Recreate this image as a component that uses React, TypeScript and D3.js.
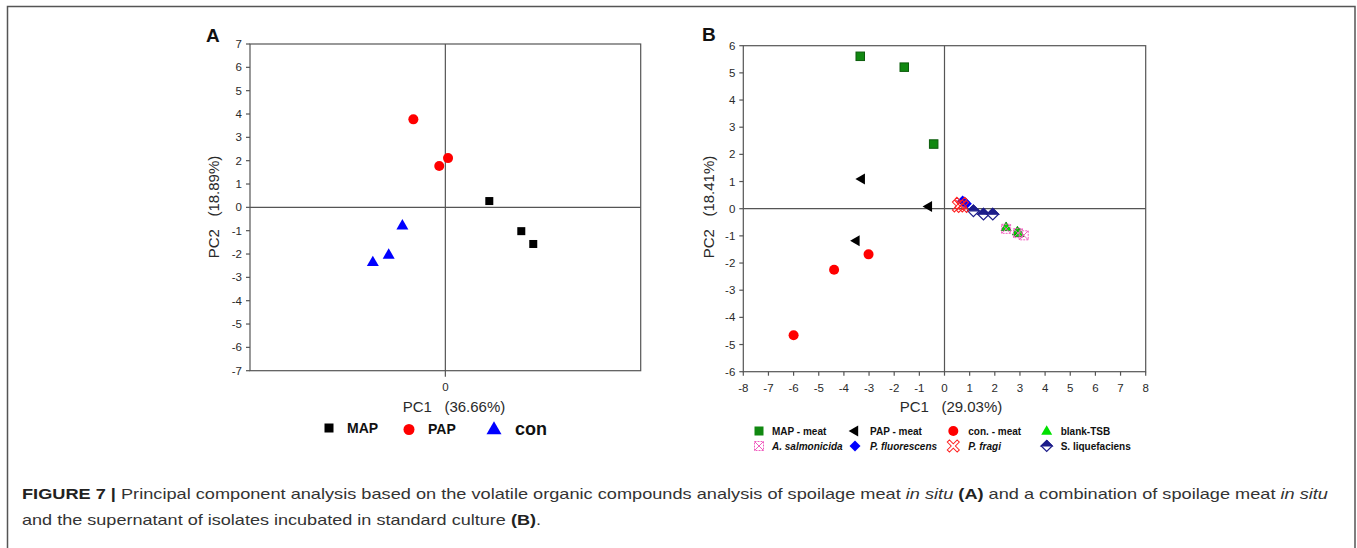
import React from "react";
import * as d3 from "d3";

const W = 1357;
const H = 548;

// ---------- Panel A data ----------
const mapA = [
  { x: 1.8, y: 0.27 },
  { x: 3.11, y: -1.02 },
  { x: 3.6, y: -1.57 },
];
const papA = [
  { x: -1.31, y: 3.77 },
  { x: -0.25, y: 1.77 },
  { x: 0.11, y: 2.11 },
];
const conA = [
  { x: -1.76, y: -0.8 },
  { x: -2.32, y: -2.05 },
  { x: -2.97, y: -2.37 },
];
const yTicksA = [-7, -6, -5, -4, -3, -2, -1, 0, 1, 2, 3, 4, 5, 6, 7];
const xTicksA = [0];

// ---------- Panel B data ----------
const mapMeat = [
  { x: -3.35, y: 5.61 },
  { x: -1.6, y: 5.21 },
  { x: -0.43, y: 2.38 },
];
const papMeat = [
  { x: -3.29, y: 1.09 },
  { x: -0.62, y: 0.08 },
  { x: -3.5, y: -1.18 },
];
const conMeat = [
  { x: -6.0, y: -4.66 },
  { x: -4.39, y: -2.25 },
  { x: -3.02, y: -1.68 },
];
const blankTSB = [
  { x: 2.45, y: -0.7 },
  { x: 2.9, y: -0.86 },
  { x: 2.97, y: -0.92 },
];
const aSalmonicida = [
  { x: 2.45, y: -0.74 },
  { x: 2.92, y: -0.9 },
  { x: 3.15, y: -0.98 },
];
const pFluorescens = [
  { x: 0.72, y: 0.28 },
  { x: 0.8, y: 0.24 },
  { x: 0.87, y: 0.18 },
];
const pFragi = [
  { x: 0.55, y: 0.1 },
  { x: 0.65, y: 0.2 },
  { x: 0.72, y: 0.08 },
];
const sLiquefaciens = [
  { x: 1.15, y: -0.08 },
  { x: 1.55, y: -0.2 },
  { x: 1.92, y: -0.2 },
];
const ticksB_x = [-8, -7, -6, -5, -4, -3, -2, -1, 0, 1, 2, 3, 4, 5, 6, 7, 8];
const ticksB_y = [-6, -5, -4, -3, -2, -1, 0, 1, 2, 3, 4, 5, 6];

const FONT = "'Liberation Sans', Arial, Helvetica, sans-serif";
const AX = "#555";
const TXT = "#2a2a2a";

// ---------- marker helpers ----------
const sym = (type: d3.SymbolType, size: number) => d3.symbol().type(type).size(size)() as string;

function Square({ cx, cy, s, fill, stroke }: any) {
  return <rect x={cx - s / 2} y={cy - s / 2} width={s} height={s} fill={fill} stroke={stroke || "none"} strokeWidth={1} />;
}
function Circle({ cx, cy, r, fill }: any) {
  return <circle cx={cx} cy={cy} r={r} fill={fill} />;
}
function Tri({ cx, cy, w, fill, stroke, rot = 0 }: any) {
  const size = (Math.sqrt(3) / 4) * w * w;
  return (
    <path d={sym(d3.symbolTriangle, size)} transform={`translate(${cx},${cy}) rotate(${rot})`} fill={fill} stroke={stroke || "none"} strokeWidth={0.8} />
  );
}
function Diamond({ cx, cy, h, fill, stroke }: any) {
  const d = `M0,${-h}L${h},0L0,${h}L${-h},0Z`;
  return <path d={d} transform={`translate(${cx},${cy})`} fill={fill} stroke={stroke || "none"} strokeWidth={1.2} />;
}
function HalfDiamond({ cx, cy, h }: any) {
  const full = `M0,${-h}L${h},0L0,${h}L${-h},0Z`;
  const top = `M0,${-h}L${h},0L${-h},0Z`;
  return (
    <g transform={`translate(${cx},${cy})`}>
      <path d={full} fill="#fff" stroke="#1c1c8a" strokeWidth={1.2} />
      <path d={top} fill="#1c1c8a" stroke="#1c1c8a" strokeWidth={1.2} />
    </g>
  );
}
function XBox({ cx, cy, s }: any) {
  const h = s / 2;
  return (
    <g transform={`translate(${cx},${cy})`} stroke="#f060c0" strokeWidth={1} fill="none">
      <rect x={-h} y={-h} width={s} height={s} strokeDasharray="2,1" />
      <path d={`M${-h},${-h}L${h},${h}M${h},${-h}L${-h},${h}`} />
    </g>
  );
}
function HollowX({ cx, cy, h, a }: any) {
  const pts = [
    [-a, -h], [a, -h], [a, -a], [h, -a], [h, a], [a, a], [a, h], [-a, h], [-a, a], [-h, a], [-h, -a], [-a, -a],
  ];
  const d = "M" + pts.map((p) => p.join(",")).join("L") + "Z";
  return <path d={d} transform={`translate(${cx},${cy}) rotate(45)`} fill="none" stroke="#ff2020" strokeWidth={1} />;
}

// ---------- Panel A ----------
function PanelA() {
  const x = d3.scaleLinear().domain([-8, 8]).range([250, 640.7]);
  const y = d3.scaleLinear().domain([-7, 7]).range([370.7, 44]);
  const [x0, x1] = x.range();
  const [y0, y1] = y.range();
  return (
    <g fontFamily={FONT}>
      <rect x={x0} y={y1} width={x1 - x0} height={y0 - y1} fill="none" stroke={AX} strokeWidth={1.2} />
      <line x1={x(0)} x2={x(0)} y1={y1} y2={y0 + 6} stroke={AX} strokeWidth={1.2} />
      <line x1={x0} x2={x1} y1={y(0)} y2={y(0)} stroke={AX} strokeWidth={1.2} />
      {yTicksA.map((t) => (
        <g key={t}>
          <line x1={x0 - 4} x2={x0} y1={y(t)} y2={y(t)} stroke={AX} strokeWidth={1.2} />
          <text x={x0 - 8} y={y(t)} dy="0.35em" textAnchor="end" fontSize={11.5} fill={TXT}>{t}</text>
        </g>
      ))}
      {xTicksA.map((t) => (
        <text key={t} x={x(t)} y={y0 + 20} textAnchor="middle" fontSize={11.5} fill={TXT}>{t}</text>
      ))}
      <text x={214} y={207} transform="rotate(-90,214,207)" dy="0.35em" textAnchor="middle" fontSize={15} fill={TXT} style={{ whiteSpace: "pre" }}>
        {"PC2   (18.89%)"}
      </text>
      <text x={454} y={412} textAnchor="middle" fontSize={15} fill={TXT} style={{ whiteSpace: "pre" }}>
        {"PC1   (36.66%)"}
      </text>
      <text x={206} y={41.5} fontSize={19} fontWeight="bold" fill="#111">A</text>
      {mapA.map((d, i) => <Square key={"m" + i} cx={x(d.x)} cy={y(d.y)} s={8} fill="#000" />)}
      {papA.map((d, i) => <Circle key={"p" + i} cx={x(d.x)} cy={y(d.y)} r={5} fill="#ff0000" />)}
      {conA.map((d, i) => <Tri key={"c" + i} cx={x(d.x)} cy={y(d.y)} w={12} fill="#0000ff" />)}
      {/* legend */}
      <Square cx={329} cy={428} s={9} fill="#000" />
      <text x={347} y={433} fontSize={14} fontWeight="bold" fill="#111">MAP</text>
      <Circle cx={409} cy={429.5} r={5.5} fill="#ff0000" />
      <text x={428} y={434} fontSize={14} fontWeight="bold" fill="#111">PAP</text>
      <Tri cx={494} cy={430} w={15} fill="#0000ff" />
      <text x={515} y={435} fontSize={18} fontWeight="bold" fill="#111">con</text>
    </g>
  );
}

// ---------- Panel B ----------
function PanelB() {
  const x = d3.scaleLinear().domain([-8, 8]).range([743.3, 1145.7]);
  const y = d3.scaleLinear().domain([-6, 6]).range([371.7, 45.7]);
  const [x0, x1] = x.range();
  const [y0, y1] = y.range();
  return (
    <g fontFamily={FONT}>
      <rect x={x0} y={y1} width={x1 - x0} height={y0 - y1} fill="none" stroke={AX} strokeWidth={1.2} />
      <line x1={x(0)} x2={x(0)} y1={y1} y2={y0} stroke={AX} strokeWidth={1.2} />
      <line x1={x0} x2={x1} y1={y(0)} y2={y(0)} stroke={AX} strokeWidth={1.2} />
      {ticksB_y.map((t) => (
        <g key={t}>
          <line x1={x0 - 4} x2={x0} y1={y(t)} y2={y(t)} stroke={AX} strokeWidth={1.2} />
          <text x={x0 - 8} y={y(t)} dy="0.35em" textAnchor="end" fontSize={11.5} fill={TXT}>{t}</text>
        </g>
      ))}
      {ticksB_x.map((t) => (
        <g key={t}>
          <line x1={x(t)} x2={x(t)} y1={y0} y2={y0 + 4} stroke={AX} strokeWidth={1.2} />
          <text x={x(t)} y={y0 + 20} textAnchor="middle" fontSize={11.5} fill={TXT}>{t}</text>
        </g>
      ))}
      <text x={709} y={207} transform="rotate(-90,709,207)" dy="0.35em" textAnchor="middle" fontSize={15} fill={TXT} style={{ whiteSpace: "pre" }}>
        {"PC2   (18.41%)"}
      </text>
      <text x={951} y={412} textAnchor="middle" fontSize={15} fill={TXT} style={{ whiteSpace: "pre" }}>
        {"PC1   (29.03%)"}
      </text>
      <text x={702} y={41} fontSize={19} fontWeight="bold" fill="#111">B</text>

      {mapMeat.map((d, i) => <Square key={"a" + i} cx={x(d.x)} cy={y(d.y)} s={8.5} fill="#118811" stroke="#0c5c0c" />)}
      {papMeat.map((d, i) => <Tri key={"b" + i} cx={x(d.x)} cy={y(d.y)} w={11} fill="#000" rot={-90} />)}
      {conMeat.map((d, i) => <Circle key={"c" + i} cx={x(d.x)} cy={y(d.y)} r={5} fill="#ff0000" />)}
      {blankTSB.map((d, i) => <Tri key={"d" + i} cx={x(d.x)} cy={y(d.y)} w={10} fill="#00e000" stroke="#0a7a0a" />)}
      {aSalmonicida.map((d, i) => <XBox key={"e" + i} cx={x(d.x)} cy={y(d.y)} s={9} />)}
      {sLiquefaciens.map((d, i) => <HalfDiamond key={"f" + i} cx={x(d.x)} cy={y(d.y)} h={5.8} />)}
      {pFluorescens.map((d, i) => <Diamond key={"g" + i} cx={x(d.x)} cy={y(d.y)} h={5.5} fill="#0000ff" />)}
      {pFragi.map((d, i) => <HollowX key={"h" + i} cx={x(d.x)} cy={y(d.y)} h={7} a={1.4} />)}

      {/* legend */}
      <g fontSize={10} fontWeight="bold" fill="#111">
        <Square cx={759} cy={431} s={9} fill="#118811" />
        <text x={772} y={434.5}>MAP - meat</text>
        <Tri cx={855} cy={431} w={11} fill="#000" rot={-90} />
        <text x={870} y={434.5}>PAP - meat</text>
        <Circle cx={953.3} cy={431} r={5} fill="#ff0000" />
        <text x={968.3} y={434.5}>con. - meat</text>
        <Tri cx={1046.7} cy={431.5} w={11} fill="#00e000" />
        <text x={1060.7} y={434.5}>blank-TSB</text>

        <XBox cx={759} cy={446} s={9} />
        <text x={772} y={449.5} fontStyle="italic">A. salmonicida</text>
        <Diamond cx={855} cy={446} h={5.5} fill="#0000ff" />
        <text x={870} y={449.5} fontStyle="italic">P. fluorescens</text>
        <HollowX cx={953.3} cy={446} h={7} a={1.5} />
        <text x={968.3} y={449.5} fontStyle="italic">P. fragi</text>
        <HalfDiamond cx={1046.7} cy={446} h={5.5} />
        <text x={1060.7} y={449.5}>S. liquefaciens</text>
      </g>
    </g>
  );
}

function Caption() {
  return (
    <g fontFamily={FONT} fontSize={15} fill="#333">
      <text x={22} y={499} textLength={1306} lengthAdjust="spacingAndGlyphs" style={{ whiteSpace: "pre" }}>
        <tspan fontWeight="bold" fill="#222">FIGURE 7 | </tspan>
        <tspan>Principal component analysis based on the volatile organic compounds analysis of spoilage meat </tspan>
        <tspan fontStyle="italic">in situ</tspan>
        <tspan> </tspan>
        <tspan fontWeight="bold" fill="#222">(A)</tspan>
        <tspan> and a combination of spoilage meat </tspan>
        <tspan fontStyle="italic">in situ</tspan>
      </text>
      <text x={22} y={525} textLength={519} lengthAdjust="spacingAndGlyphs" style={{ whiteSpace: "pre" }}>
        <tspan>and the supernatant of isolates incubated in standard culture </tspan>
        <tspan fontWeight="bold" fill="#222">(B)</tspan>
        <tspan>.</tspan>
      </text>
    </g>
  );
}

export default function App() {
  return (
    <div style={{ position: "absolute", left: 0, top: 0, width: W, height: H, background: "#fff" }}>
      <svg width={W} height={H} viewBox={`0 0 ${W} ${H}`} style={{ display: "block" }}>
        <rect width={W} height={H} fill="#fff" />
        <path d={`M7.5,${H + 2}V6.5H1355V${H + 2}`} fill="none" stroke="#555" strokeWidth={1.5} />
        <PanelA />
        <PanelB />
        <Caption />
      </svg>
    </div>
  );
}
